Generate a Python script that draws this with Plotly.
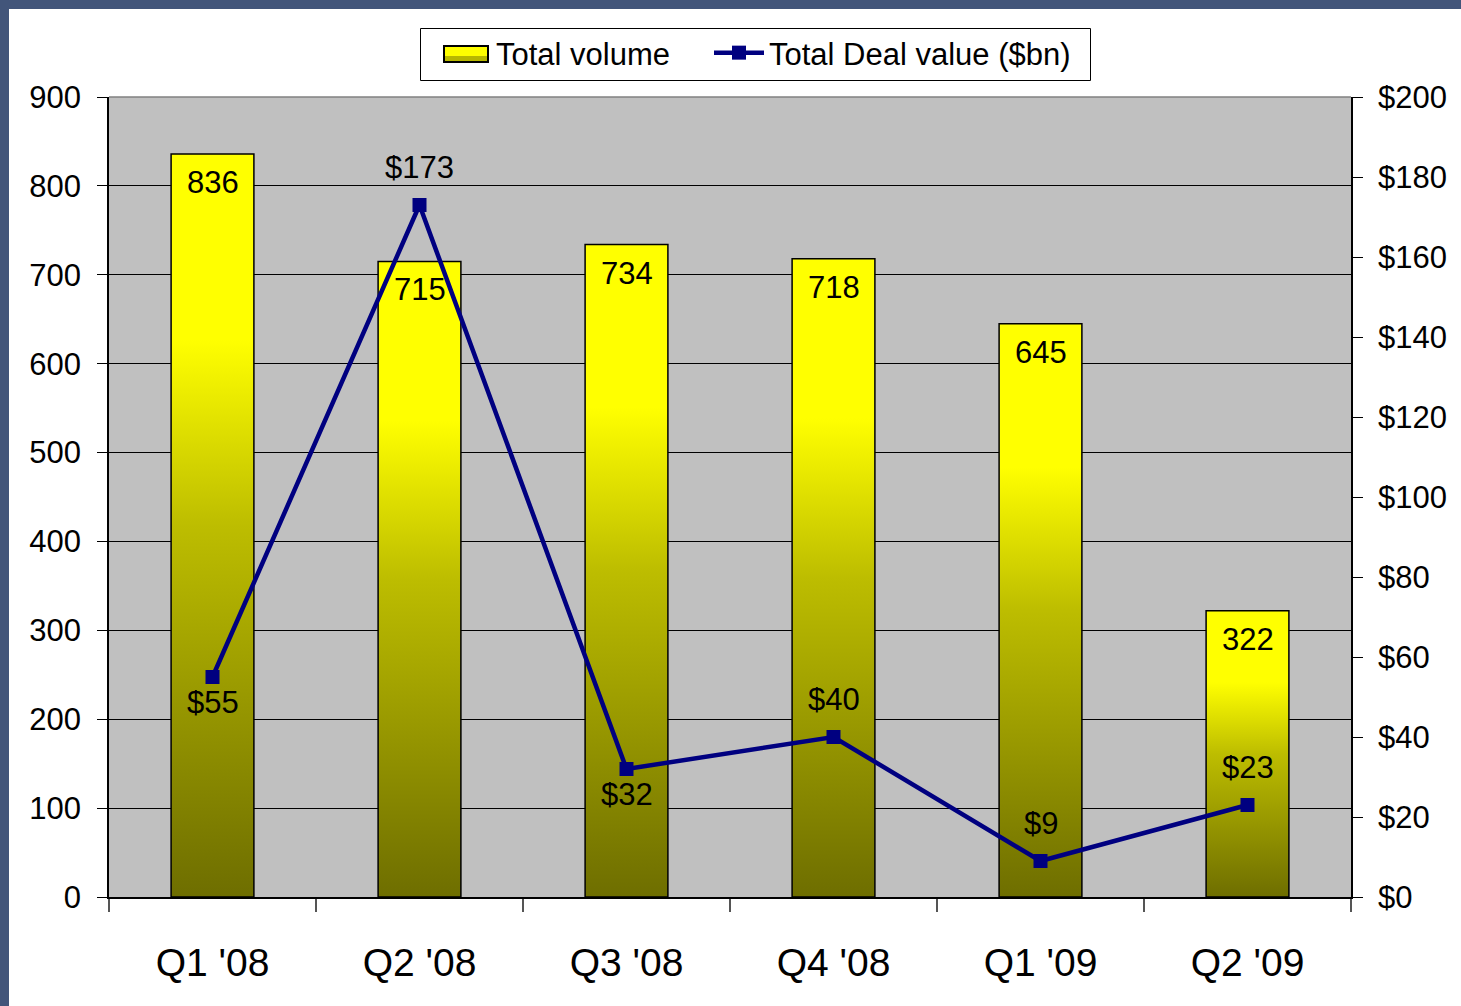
import plotly.graph_objects as go

# ---- data ----
categories = ["Q1 '08", "Q2 '08", "Q3 '08", "Q4 '08", "Q1 '09", "Q2 '09"]
total_volume = [836, 715, 734, 718, 645, 322]
deal_value = [55, 173, 32, 40, 9, 23]
deal_labels = ["$55", "$173", "$32", "$40", "$9", "$23"]
y2_ticks = [0, 20, 40, 60, 80, 100, 120, 140, 160, 180, 200]

# ---- style ----
FONT = "Liberation Sans, Arial, sans-serif"
BAR_W = 0.4
NAVY = "#000080"
label_side = ["below", "above", "below", "above", "above", "above"]

W, H = 1461, 1006
ML, MR, MT, MB = 109, 110, 97, 109
PW, PH = W - ML - MR, H - MT - MB


def px_x(p):
    return (p - ML) / PW


def px_y(p):
    return (H - MB - p) / PH


xs = list(range(len(categories)))
fig = go.Figure()

# bars (legend entry; visual fill provided by gradient overlays below)
fig.add_trace(go.Bar(
    x=xs, y=total_volume, width=BAR_W, name="Total volume",
    marker=dict(color="rgba(0,0,0,0)", line=dict(color="rgba(0,0,0,0)", width=0)),
    hoverinfo="skip", legend="legend",
))

# gradient fill on each bar
grad = [[0, "#6E6E00"], [0.5, "#BDBD00"], [0.75, "#FFFF00"], [1, "#FFFF00"]]
for i, v in enumerate(total_volume):
    fig.add_trace(go.Scatter(
        x=[i - BAR_W / 2, i - BAR_W / 2, i + BAR_W / 2, i + BAR_W / 2, i - BAR_W / 2],
        y=[0, v, v, 0, 0],
        mode="lines",
        fill="toself",
        fillgradient=dict(type="vertical", colorscale=grad, start=0, stop=v),
        line=dict(color="#000000", width=1.5),
        showlegend=False,
        hoverinfo="skip",
    ))

fig.add_trace(go.Scatter(
    x=xs,
    y=deal_value,
    mode="lines+markers",
    name="Total Deal value ($bn)",
    line=dict(color=NAVY, width=4.5),
    marker=dict(symbol="square", size=14, color=NAVY),
    yaxis="y2",
    legend="legend2",
))

annotations = []
for i, v in enumerate(total_volume):
    annotations.append(dict(
        x=i, y=v, xref="x", yref="y", text=str(v), showarrow=False,
        yanchor="top", yshift=-9, font=dict(family=FONT, size=31, color="#000000"),
    ))
for i, (v, t) in enumerate(zip(deal_value, deal_labels)):
    above = label_side[i] == "above"
    annotations.append(dict(
        x=i, y=v, xref="x", yref="y2", text=t, showarrow=False,
        yanchor="bottom" if above else "top", yshift=18 if above else -6,
        font=dict(family=FONT, size=31, color="#000000"),
    ))

shapes = [
    dict(type="rect", xref="paper", yref="paper", x0=px_x(0), x1=px_x(W), y0=px_y(9), y1=px_y(0),
         fillcolor="#42557A", line=dict(width=0), layer="above"),
    dict(type="rect", xref="paper", yref="paper", x0=px_x(0), x1=px_x(9), y0=px_y(H), y1=px_y(0),
         fillcolor="#42557A", line=dict(width=0), layer="above"),
    dict(type="line", xref="paper", yref="paper", x0=0, x1=1, y0=1, y1=1,
         line=dict(color="#808080", width=1.5), layer="below"),
    # legend frame
    dict(type="rect", xref="paper", yref="paper", x0=px_x(420.5), x1=px_x(1090.5),
         y0=px_y(80.5), y1=px_y(28.5), fillcolor="#FFFFFF",
         line=dict(color="#000000", width=1), layer="below"),
    # legend key for the bars
    dict(type="rect", xref="paper", yref="paper", x0=px_x(444), x1=px_x(488),
         y0=px_y(62), y1=px_y(46), fillcolor="#FFFF00",
         line=dict(color="#000000", width=2), layer="above"),
    dict(type="rect", xref="paper", yref="paper", x0=px_x(445), x1=px_x(487),
         y0=px_y(61), y1=px_y(56), fillcolor="#B8B800",
         line=dict(width=0), layer="above"),
]

leg_common = dict(
    orientation="h", yanchor="top", xanchor="left", y=px_y(26),
    borderwidth=0, bgcolor="rgba(0,0,0,0)", font=dict(family=FONT, size=31),
)

fig.update_layout(
    width=W, height=H,
    margin=dict(l=ML, r=MR, t=MT, b=MB),
    paper_bgcolor="#FFFFFF",
    plot_bgcolor="#C0C0C0",
    font=dict(family=FONT, size=31, color="#000000"),
    showlegend=True,
    legend=dict(x=px_x(434), itemwidth=52, **leg_common),
    legend2=dict(x=px_x(709), itemwidth=50, **leg_common),
    xaxis=dict(
        range=[-0.5, len(categories) - 0.5],
        tickmode="array", tickvals=xs, ticktext=categories,
        ticks="", showgrid=False, zeroline=False,
        showline=True, linecolor="#000000", linewidth=1.5,
        tickfont=dict(family=FONT, size=39),
        ticklabelstandoff=30,
        minor=dict(tickmode="array", tickvals=[k - 0.5 for k in range(len(categories) + 1)],
                   ticks="outside", ticklen=13, tickcolor="#555555", tickwidth=1.5, showgrid=False),
    ),
    yaxis=dict(
        range=[0, 900], dtick=100, tick0=0,
        showgrid=True, gridcolor="#000000", gridwidth=1,
        zeroline=False, showline=True, linecolor="#000000", linewidth=1.5,
        ticks="outside", ticklen=10, tickcolor="#000000",
        tickfont=dict(family=FONT, size=31), ticklabelstandoff=10,
    ),
    yaxis2=dict(
        overlaying="y", side="right", anchor="x",
        range=[0, 200], tickmode="array", tickvals=y2_ticks,
        ticktext=["$" + str(t) for t in y2_ticks],
        showgrid=False, zeroline=False, showline=True, linecolor="#000000", linewidth=1.5,
        ticks="outside", ticklen=10, tickcolor="#000000",
        tickfont=dict(family=FONT, size=31), ticklabelstandoff=9,
    ),
    annotations=annotations,
    shapes=shapes,
    barmode="overlay",
)

fig.write_html(
    "out.html",
    config={"displayModeBar": False},
    post_script="document.body.style.margin='0';document.body.style.overflow='hidden';",
)
